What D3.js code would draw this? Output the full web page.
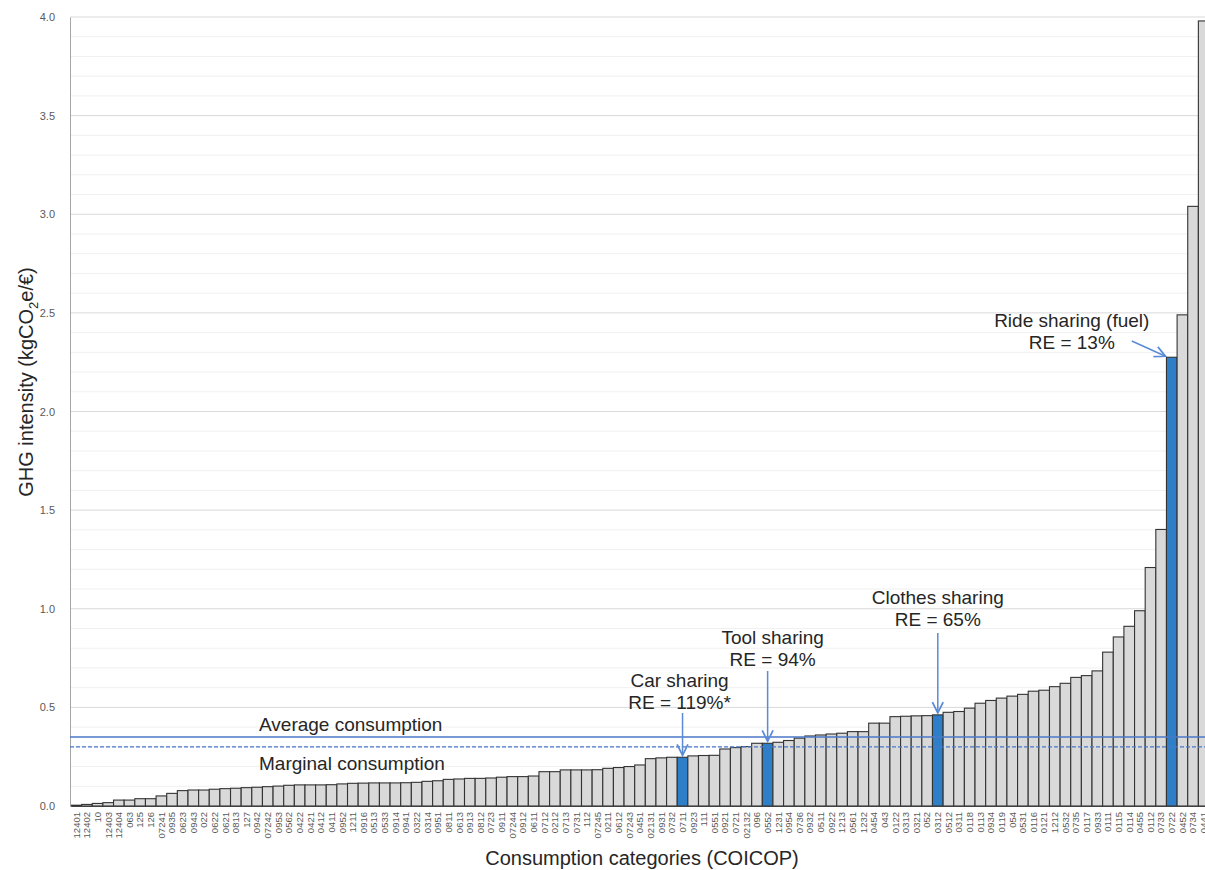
<!DOCTYPE html>
<html>
<head>
    <meta charset="utf-8">
    <title>GHG intensity of consumption categories</title>
    <script src="https://d3js.org/d3.v7.min.js"></script>
    <style>
        body { margin: 0; background: #fff; }
        svg text { font-family: "Liberation Sans", Arial, sans-serif; }
    </style>
</head>
<body>
    <svg id="chart"></svg>

    <script>
        // COICOP categories, sorted by intensity
        const categories = [
            "12401", "12402", "10", "12403", "12404", "063", "125", "126", "07241", "0935",
            "0623", "0943", "022", "0622", "0621", "0813", "127", "0942", "07242", "0953",
            "0562", "0422", "0421", "0412", "0411", "0952", "1211", "0916", "0513", "0533",
            "0914", "0941", "0322", "0314", "0951", "0811", "0613", "0913", "0812", "0723",
            "0911", "07244", "0912", "0611", "0712", "0212", "0713", "0731", "112", "07245",
            "0211", "0612", "07243", "0451", "02131", "0931", "0732", "0711", "0923", "111",
            "0551", "0921", "0721", "02132", "096", "0552", "1231", "0954", "0736", "0932",
            "0511", "0922", "1213", "0561", "1232", "0454", "043", "0122", "0313", "0321",
            "052", "0312", "0512", "0311", "0118", "0113", "0934", "0119", "054", "0531",
            "0116", "0121", "1212", "0532", "0735", "0117", "0933", "0111", "0115", "0114",
            "0455", "0112", "0733", "0722", "0452", "0734", "0441"
        ];

        // GHG intensity (kgCO2e/€)
        const intensity = [
            0.004, 0.008, 0.013, 0.017, 0.030, 0.030, 0.037, 0.037, 0.051, 0.064,
            0.078, 0.081, 0.081, 0.085, 0.088, 0.090, 0.093, 0.095, 0.098, 0.101,
            0.105, 0.107, 0.107, 0.107, 0.108, 0.112, 0.115, 0.116, 0.117, 0.117,
            0.117, 0.118, 0.120, 0.125, 0.128, 0.135, 0.137, 0.140, 0.140, 0.142,
            0.146, 0.149, 0.149, 0.152, 0.174, 0.174, 0.183, 0.183, 0.183, 0.184,
            0.191, 0.195, 0.200, 0.208, 0.240, 0.244, 0.247, 0.247, 0.254, 0.256,
            0.257, 0.289, 0.296, 0.301, 0.318, 0.318, 0.323, 0.332, 0.344, 0.355,
            0.360, 0.365, 0.369, 0.377, 0.377, 0.420, 0.420, 0.453, 0.455, 0.457,
            0.458, 0.462, 0.475, 0.479, 0.496, 0.521, 0.535, 0.547, 0.557, 0.566,
            0.582, 0.587, 0.605, 0.622, 0.652, 0.661, 0.685, 0.780, 0.857, 0.911,
            0.990, 1.209, 1.402, 2.275, 2.490, 3.040, 3.980
        ];

        // sharing practices highlighted in blue
        const highlights = [
            { code: "0711", lines: ["Car sharing", "RE = 119%*"] },
            { code: "0552", lines: ["Tool sharing", "RE = 94%"] },
            { code: "0312", lines: ["Clothes sharing", "RE = 65%"] },
            { code: "0722", lines: ["Ride sharing (fuel)", "RE = 13%"] }
        ];

        const averageConsumption = 0.35;
        const marginalConsumption = 0.30;

        const yTicks = [0, 0.5, 1, 1.5, 2, 2.5, 3, 3.5, 4];
        const yMinorTicks = d3.range(0, 41).map(i => i / 10);

        const svgWidth = 1205;
        const svgHeight = 870;
        const margin = { top: 17, left: 70, bottom: 64 };
        const plotRight = 1209;   // last bar runs past the edge, as in the source
        const plotBottom = svgHeight - margin.bottom;

        const svg = d3.select("#chart")
            .attr("width", svgWidth)
            .attr("height", svgHeight);

        const data = categories.map((c, i) => ({ code: c, value: intensity[i] }));
        const highlighted = new Set(highlights.map(h => h.code));

        const x = d3.scaleBand()
            .domain(categories)
            .range([margin.left + 1, plotRight])
            .padding(0);

        const y = d3.scaleLinear()
            .domain([0, 4])
            .range([plotBottom, margin.top]);

        // gridlines
        svg.append("g")
            .selectAll("line")
            .data(yMinorTicks)
            .join("line")
            .attr("x1", margin.left)
            .attr("x2", svgWidth)
            .attr("y1", d => y(d))
            .attr("y2", d => y(d))
            .attr("stroke", d => Math.round(d * 10) % 5 === 0 ? "#d9d9d9" : "#f0f0f0")
            .attr("stroke-width", 1);

        // bars
        svg.append("g")
            .selectAll("rect")
            .data(data)
            .join("rect")
            .attr("x", d => x(d.code))
            .attr("y", d => y(d.value))
            .attr("width", x.bandwidth())
            .attr("height", d => plotBottom - y(d.value))
            .attr("fill", d => highlighted.has(d.code) ? "#2f7fc8" : "#d9d9d9")
            .attr("stroke", "#333")
            .attr("stroke-width", 1.1);

        // axes
        const yAxis = svg.append("g")
            .attr("transform", `translate(${margin.left},0)`)
            .call(d3.axisLeft(y).tickValues(yTicks).tickFormat(d3.format(".1f")).tickSize(0).tickPadding(15));
        yAxis.select(".domain").attr("stroke", "#a6a6a6");
        yAxis.selectAll("text").attr("fill", "#595959").style("font-size", "11px");

        const xAxis = svg.append("g")
            .attr("transform", `translate(0,${plotBottom})`)
            .call(d3.axisBottom(x).tickSize(0).tickPadding(0));
        xAxis.select(".domain").attr("stroke", "#404040");
        xAxis.selectAll("text")
            .attr("fill", "#595959")
            .style("font-size", "9.5px")
            .attr("text-anchor", "end")
            .attr("transform", "rotate(-90)")
            .attr("x", -6)
            .attr("y", 0)
            .attr("dy", "0.35em");

        // reference lines
        const lineColor = "#4a78c8";
        svg.append("line")
            .attr("x1", margin.left).attr("x2", svgWidth)
            .attr("y1", y(averageConsumption)).attr("y2", y(averageConsumption))
            .attr("stroke", lineColor).attr("stroke-width", 1.5);
        svg.append("line")
            .attr("x1", margin.left).attr("x2", svgWidth)
            .attr("y1", y(marginalConsumption)).attr("y2", y(marginalConsumption))
            .attr("stroke", lineColor).attr("stroke-width", 1.2)
            .attr("stroke-dasharray", "4,2");

        svg.append("text")
            .attr("x", 259)
            .attr("y", y(averageConsumption) - 6)
            .style("font-size", "19px")
            .attr("fill", "#262626")
            .text("Average consumption");
        svg.append("text")
            .attr("x", 259)
            .attr("y", y(marginalConsumption) + 23)
            .style("font-size", "19px")
            .attr("fill", "#262626")
            .text("Marginal consumption");

        // annotations with arrows
        const arrowColor = "#5b8ad6";
        const defs = svg.append("defs");
        defs.append("marker")
            .attr("id", "arrow")
            .attr("viewBox", "0 0 10 10")
            .attr("refX", 9).attr("refY", 5)
            .attr("markerWidth", 9).attr("markerHeight", 9)
            .attr("orient", "auto")
            .append("path")
            .attr("d", "M1,1 L9,5 L1,9")
            .attr("fill", "none")
            .attr("stroke", arrowColor)
            .attr("stroke-width", 1.3);

        // label placement relative to the bar: text centre offset, first line centre, arrow start
        const labelPos = {
            "0711": { dx: -3, top: 680, ax: 0, ay: 713 },
            "0552": { dx: 5, top: 637, ax: 0, ay: 671 },
            "0312": { dx: 0, top: 597, ax: 0, ay: 633 },
            "0722": { dx: -100, top: 320, ax: -40, ay: 341 }
        };

        highlights.forEach(h => {
            const cx = x(h.code) + x.bandwidth() / 2;
            const d = data.find(e => e.code === h.code);
            const p = labelPos[h.code];
            const t = svg.append("text")
                .attr("text-anchor", "middle")
                .style("font-size", "19px")
                .attr("fill", "#262626");
            h.lines.forEach((l, i) => {
                t.append("tspan")
                    .attr("x", cx + p.dx)
                    .attr("y", p.top + i * 22)
                    .attr("dy", "0.35em")
                    .text(l);
            });
            const endX = h.code === "0722" ? x(h.code) - 1 : cx;
            const endY = h.code === "0722" ? y(d.value) - 1 : y(d.value) - 2;
            svg.append("line")
                .attr("x1", cx + p.ax)
                .attr("y1", p.ay)
                .attr("x2", endX)
                .attr("y2", endY)
                .attr("stroke", arrowColor)
                .attr("stroke-width", 1.5)
                .attr("marker-end", "url(#arrow)");
        });

        // axis titles
        const yTitle = svg.append("text")
            .attr("transform", "translate(33,382) rotate(-90)")
            .attr("text-anchor", "middle")
            .style("font-size", "20px")
            .attr("fill", "#262626");
        yTitle.append("tspan").text("GHG intensity (kgCO");
        yTitle.append("tspan").style("font-size", "13px").attr("dy", "5").text("2");
        yTitle.append("tspan").attr("dy", "-5").text("e/€)");

        svg.append("text")
            .attr("x", 642)
            .attr("y", 865)
            .attr("text-anchor", "middle")
            .style("font-size", "20px")
            .attr("fill", "#262626")
            .text("Consumption categories (COICOP)");
    </script>
</body>
</html>
